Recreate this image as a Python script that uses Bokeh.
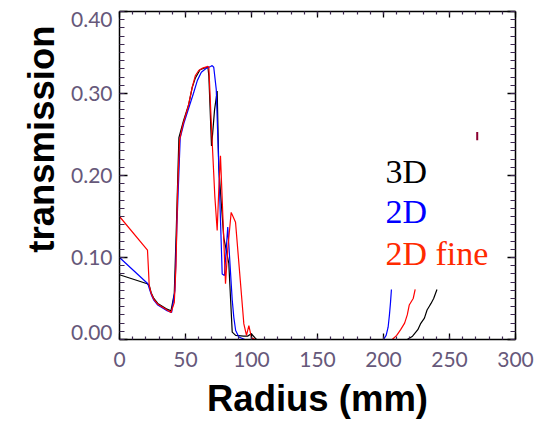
import math
from bokeh.plotting import figure
from bokeh.models import (Range1d, LinearAxis, SingleIntervalTicker, FixedTicker,
                          CustomJSTickFormatter, Label, Title)
from bokeh.embed import file_html
from bokeh.resources import INLINE

# ---- data ----
black_x = [0, 21, 22.5, 24, 26, 29, 33, 36, 39, 41.5, 43, 45, 48.5, 52.5, 55, 57.5,
           61, 64, 67, 67.7, 69.7, 70.5, 72, 74, 75.2, 76.5, 79, 81, 82.8, 85.4,
           88, 94, 97, 99.8, 103.8, 150, 218, 222, 226, 228, 231, 233, 234.5,
           236, 238, 240.5]
black_y = [0.079, 0.068, 0.066, 0.057, 0.050, 0.044, 0.040, 0.037, 0.035, 0.056,
           0.133, 0.246, 0.267, 0.287, 0.307, 0.319, 0.329, 0.331, 0.332, 0.321,
           0.236, 0.250, 0.280, 0.303, 0.211, 0.180, 0.124, 0.108, 0.093, 0.009,
           0.005, 0.004, 0.004, 0.007, 0.0, 0.0, 0.0, 0.004, 0.012, 0.019, 0.026,
           0.036, 0.040, 0.044, 0.050, 0.061]

blue_x = [0, 21.5, 23, 24.5, 26, 29, 33, 36, 39.5, 42, 43.5, 46, 49, 53, 56, 59,
          62, 66, 69, 70.2, 71.4, 73.3, 75.2, 77.8, 79.5, 82, 85.4, 86.6, 88,
          90.4, 95, 150, 200, 202, 203.5, 204.5, 205.3, 206]
blue_y = [0.100, 0.068, 0.060, 0.053, 0.048, 0.042, 0.038, 0.035, 0.033, 0.060,
          0.140, 0.246, 0.265, 0.285, 0.300, 0.316, 0.326, 0.331, 0.333, 0.334,
          0.332, 0.305, 0.212, 0.080, 0.078, 0.137, 0.048, 0.027, 0.011, 0.003,
          0.0, 0.0, 0.0, 0.005, 0.015, 0.030, 0.045, 0.061]

red_x = [0, 21.2, 21.8, 22.5, 24, 26, 29, 33, 36, 39, 41.5, 42.8, 44, 45.5, 48,
         52, 55, 57.5, 60, 63, 67, 67.7, 69.5, 72.2, 74, 75.2, 76.5, 77.7, 80.3,
         82, 84.6, 86, 87.9, 94.2, 96.2, 98, 100, 103, 150, 206.6, 210, 213, 216,
         218, 219.5, 221, 222.5, 224]
red_y = [0.150, 0.109, 0.090, 0.066, 0.056, 0.049, 0.043, 0.039, 0.036, 0.033,
         0.045, 0.090, 0.180, 0.243, 0.262, 0.284, 0.307, 0.322, 0.328, 0.331,
         0.333, 0.332, 0.265, 0.175, 0.133, 0.182, 0.224, 0.175, 0.068, 0.110,
         0.155, 0.150, 0.143, 0.019, 0.005, 0.017, 0.002, 0.0, 0.0, 0.0, 0.005,
         0.012, 0.020, 0.030, 0.042, 0.046, 0.050, 0.061]

mark_x = [271, 271]
mark_y = [0.243, 0.253]

series_names = ["3D", "2D", "2D fine"]
series_label_x = [201.5, 201.5, 201.5]
series_label_y = [0.205, 0.156, 0.105]

y_tick_values = [0.0, 0.1, 0.2, 0.3, 0.4]
y_tick_labels = ["0.00", "0.10", "0.20", "0.30", "0.40"]

x_label = "Radius (mm)"
y_label = "transmission"

# ---- styles ----
BLACK = "#000000"
BLUE = "#0000ff"
RED = "#ff0000"
RED_TXT = "#ff2a00"
TICK_LBL = "#66587a"
MINOR = "#3c2850"
X0, X1, Y0, Y1 = 0, 300, 0.0, 0.40
FRAME_H = 328
END_SHIFT_PX = 7.5   # end labels are pulled inside, as in the reference
TITLE_SIZE = "36.5px"

p = figure(width=542, height=422, output_backend="svg", toolbar_location=None,
           x_range=Range1d(X0, X1), y_range=Range1d(Y0, Y1),
           min_border_left=119, min_border_right=27, min_border_top=11,
           min_border_bottom=83, background_fill_color="white",
           border_fill_color="white", outline_line_color=None)
p.xgrid.visible = False
p.ygrid.visible = False


def style_axis(ax, major_in, minor_in, show_labels):
    ax.axis_line_color = BLACK
    ax.axis_line_width = 1.5
    ax.major_tick_in = major_in
    ax.major_tick_out = 0
    ax.minor_tick_in = minor_in
    ax.minor_tick_out = 0
    ax.major_tick_line_color = BLACK
    ax.major_tick_line_width = 1.3
    ax.minor_tick_line_color = MINOR
    ax.minor_tick_line_width = 1.2
    ax.major_label_text_font = "Lato"
    ax.major_label_text_font_size = "21px"
    ax.major_label_text_color = TICK_LBL
    if not show_labels:
        ax.formatter = CustomJSTickFormatter(code="return ''")
        ax.major_label_standoff = 0


xb = p.xaxis[0]
xb.ticker = SingleIntervalTicker(interval=50, num_minor_ticks=5)
style_axis(xb, 6, 3, True)
xb.major_label_standoff = 12
xb.axis_label = x_label
xb.axis_label_text_font = "Liberation Sans"
xb.axis_label_text_font_style = "bold"
xb.axis_label_text_font_size = TITLE_SIZE
xb.axis_label_text_color = BLACK
xb.axis_label_standoff = 8

# left axis: line + ticks only
yl = p.yaxis[0]
yl.ticker = SingleIntervalTicker(interval=0.1, num_minor_ticks=10)
style_axis(yl, 8, 5, False)

# left labels (end labels pulled inside the frame like the original)
shift = END_SHIFT_PX * (Y1 - Y0) / FRAME_H
label_pos = []
for v in y_tick_values:
    if v == Y0:
        label_pos.append(v + shift)
    elif v == Y1:
        label_pos.append(v - shift)
    else:
        label_pos.append(v)
ylab = LinearAxis(ticker=FixedTicker(ticks=label_pos, minor_ticks=[]),
                  formatter=CustomJSTickFormatter(args=dict(labs=y_tick_labels),
                                                  code="return labs[index]"))
ylab.axis_line_color = None
ylab.major_tick_line_color = None
ylab.minor_tick_line_color = None
ylab.major_tick_in = 0
ylab.major_tick_out = 0
ylab.major_label_standoff = 7
ylab.major_label_text_font = "Lato"
ylab.major_label_text_font_size = "21px"
ylab.major_label_text_color = TICK_LBL
p.add_layout(ylab, "left")

p.add_layout(Title(text=y_label, align="right", offset=14,
                   text_font="Liberation Sans", text_font_style="bold",
                   text_font_size=TITLE_SIZE, text_color=BLACK, standoff=14),
             "left")

xtop = LinearAxis(ticker=SingleIntervalTicker(interval=50, num_minor_ticks=5))
style_axis(xtop, 6, 3, False)
p.add_layout(xtop, "above")

yr = LinearAxis(ticker=SingleIntervalTicker(interval=0.1, num_minor_ticks=10))
style_axis(yr, 8, 5, False)
p.add_layout(yr, "right")

# curves
p.line(black_x, black_y, line_color=BLACK, line_width=1.2)
p.line(blue_x, blue_y, line_color=BLUE, line_width=1.2)
p.line(red_x, red_y, line_color=RED, line_width=1.2)
p.line(mark_x, mark_y, line_color="#8b0030", line_width=2)

# series labels
for name, lx, ly, col in zip(series_names, series_label_x, series_label_y,
                             [BLACK, BLUE, RED_TXT]):
    p.add_layout(Label(x=lx, y=ly, text=name, text_font="Liberation Serif",
                       text_font_size="34px", text_color=col,
                       text_baseline="alphabetic", text_align="left"))

open("out.html", "w").write(file_html(p, INLINE))
